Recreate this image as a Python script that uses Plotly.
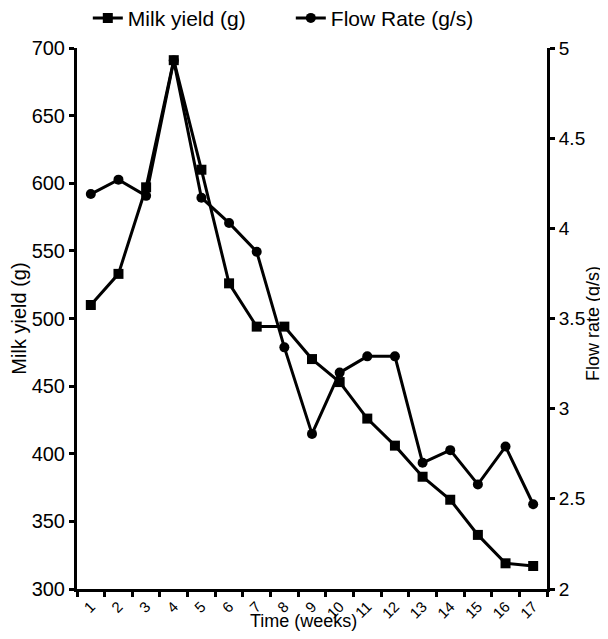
import plotly.graph_objects as go

weeks = [str(i) for i in range(1, 18)]
milk_yield = [510, 533, 597, 691, 610, 526, 494, 494, 470, 453, 426, 406, 383, 366, 340, 319, 317]
flow_rate = [4.19, 4.27, 4.18, 4.93, 4.17, 4.03, 3.87, 3.34, 2.86, 3.20, 3.29, 3.29, 2.70, 2.77, 2.58, 2.79, 2.47]

font_family = "Liberation Sans, Arial, sans-serif"

fig = go.Figure()
fig.add_trace(go.Scatter(
    x=weeks, y=milk_yield, name="Milk yield (g)", mode="lines+markers",
    line=dict(color="black", width=3),
    marker=dict(symbol="square", size=10, color="black"),
    yaxis="y"))
fig.add_trace(go.Scatter(
    x=weeks, y=flow_rate, name="Flow Rate (g/s)", mode="lines+markers",
    line=dict(color="black", width=3),
    marker=dict(symbol="circle", size=10, color="black"),
    yaxis="y2"))

axis_common = dict(showline=True, linecolor="black", linewidth=3, ticks="outside",
                   ticklen=5, tickwidth=2.5, tickcolor="black", showgrid=False, zeroline=False)

fig.update_layout(
    width=592, height=623,
    paper_bgcolor="white", plot_bgcolor="white",
    margin=dict(l=69, r=53, t=40, b=42, autoexpand=False),
    font=dict(family=font_family, color="black"),
    showlegend=True,
    legend=dict(orientation="h", x=0.023, y=1.055, xanchor="left", yanchor="middle",
                font=dict(size=21, family=font_family, color="black"), itemwidth=30,
                entrywidth=158, entrywidthmode="pixels",
                bgcolor="rgba(0,0,0,0)"),
    xaxis=dict(type="category", range=[-0.5, 16.5], tickson="boundaries", tickangle=-45,
               tickfont=dict(family=font_family, size=15, color="black"),
               **axis_common),
    yaxis=dict(range=[300, 700], dtick=50,
               title=dict(text="Milk yield (g)", font=dict(size=20, family=font_family), standoff=4),
               tickfont=dict(family=font_family, size=20, color="black"),
               **axis_common),
    yaxis2=dict(range=[2, 5], dtick=0.5, overlaying="y", side="right",
                tickfont=dict(family=font_family, size=19, color="black"),
                **axis_common),
    annotations=[
        dict(text="Flow rate (g/s)", xref="paper", yref="paper",
             x=(585 - 69) / 470, y=0.49, xanchor="center", yanchor="middle",
             textangle=-90, showarrow=False,
             font=dict(size=18, family=font_family, color="black")),
        dict(text="Time (weeks)", xref="paper", yref="paper",
             x=0.481, y=-0.0591, xanchor="center", yanchor="middle",
             showarrow=False,
             font=dict(size=18, family=font_family, color="black")),
    ],
)

fig.write_html("out.html")
